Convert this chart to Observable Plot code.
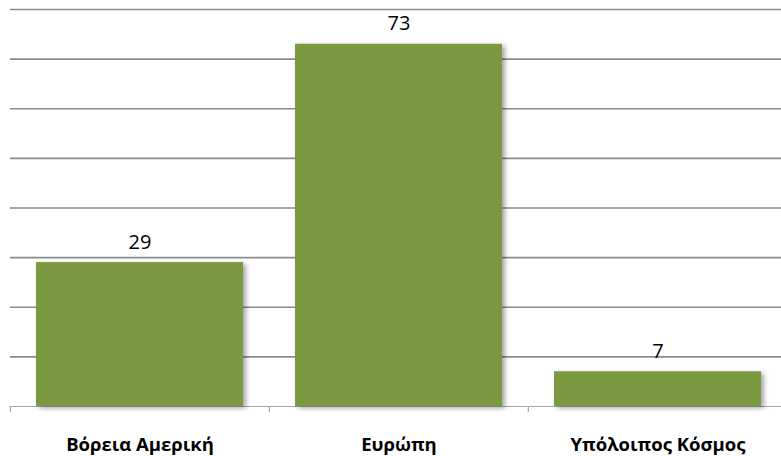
<!DOCTYPE html>
<html>
<head>
<meta charset="utf-8">
<script src="https://cdn.jsdelivr.net/npm/d3@7"></script>
<script src="https://cdn.jsdelivr.net/npm/@observablehq/plot@0.6"></script>
<style>
  body { margin: 0; background: #fff; }
  #chart { width: 781px; height: 456px; overflow: hidden; }
</style>
</head>
<body>
<div id="chart"></div>
<script>
const categories = ["Βόρεια Αμερική", "Ευρώπη", "Υπόλοιπος Κόσμος"];
const values = [29, 73, 7];
const yTicks = [0, 10, 20, 30, 40, 50, 60, 70, 80];

const data = categories.map((c, i) => ({category: c, value: values[i]}));
const W = 781, H = 456;
const xRange = [10, 788];
const step = (xRange[1] - xRange[0]) / categories.length;

const chart = Plot.plot({
  width: W,
  height: H,
  marginTop: 9,
  marginBottom: 50,
  marginLeft: 10,
  marginRight: 0,
  style: {fontFamily: "'Open Sans', 'DejaVu Sans', sans-serif", background: "#fff", overflow: "visible"},
  x: {domain: categories, range: xRange, paddingInner: 0.2, paddingOuter: 0.1, label: null, axis: null},
  y: {domain: [0, 80], label: null, axis: null},
  marks: [
    Plot.ruleY(yTicks.filter(d => d > 0), {y: d => d, stroke: "#8a8a8a", strokeWidth: 1.6}),
    Plot.ruleY([0], {stroke: "#a6a6a6", strokeWidth: 1.2}),
    Plot.ruleX(categories, {x: d => d, dx: -step / 2, y1: 0, y2: 0, insetBottom: -6, stroke: "#a6a6a6", strokeWidth: 1.2}),
    Plot.barY(data, {x: "category", y: "value", fill: "#7A9940"}),
    Plot.text(data, {x: "category", y: "value", text: d => String(d.value), lineAnchor: "bottom", dy: -14, fontSize: 20, fill: "#000"}),
    Plot.text(data, {x: "category", y: 0, text: "category", lineAnchor: "middle", dy: 38.5, fontSize: 18.5, fontWeight: "bold", fill: "#000"})
  ]
});

// drop shadow for bars
const svg = d3.select(chart);
const defs = svg.insert("defs", ":first-child");
const f = defs.append("filter").attr("id", "shadow").attr("x", "-10%").attr("y", "-10%").attr("width", "130%").attr("height", "130%");
f.append("feDropShadow").attr("dx", 3).attr("dy", 2).attr("stdDeviation", 2.5).attr("flood-color", "#000").attr("flood-opacity", 0.35);
svg.selectAll("[aria-label='bar']").attr("filter", "url(#shadow)");

document.getElementById("chart").appendChild(chart);
</script>
</body>
</html>
